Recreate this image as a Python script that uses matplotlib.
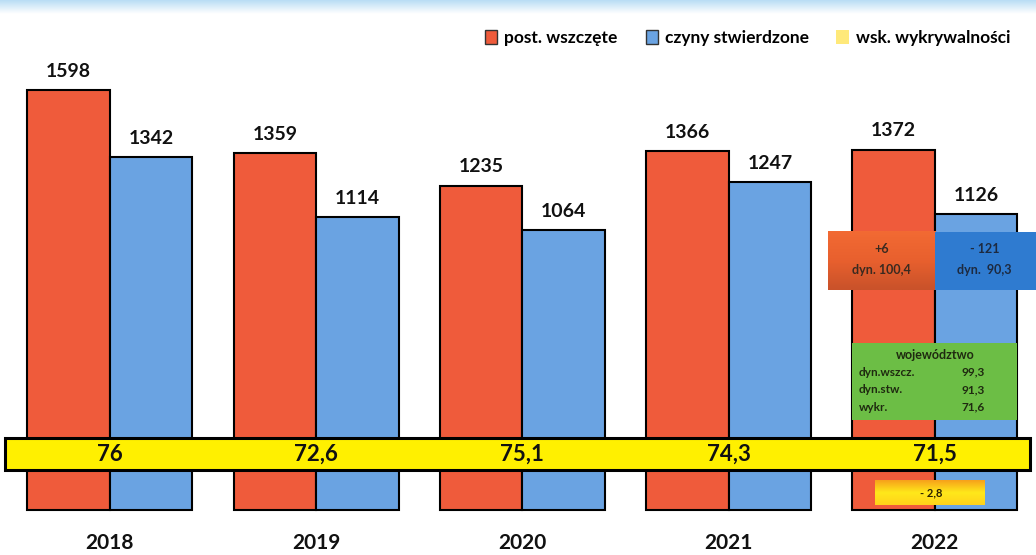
import numpy as np
import matplotlib
matplotlib.use("Agg")
import matplotlib.pyplot as plt
from matplotlib.patches import Rectangle, Patch

plt.rcParams['font.family'] = ['Lato', 'DejaVu Sans']

# dane
lata = ['2018', '2019', '2020', '2021', '2022']
wszczete = [1598, 1359, 1235, 1366, 1372]
stwierdzone = [1342, 1114, 1064, 1247, 1126]
wykrywalnosc = ['76', '72,6', '75,1', '74,3', '71,5']

# opisy dynamiki dla 2022
dyn_wszcz = ['+6', 'dyn. 100,4']
dyn_stw = ['- 121', 'dyn.  90,3']
woj_tytul = 'województwo'
woj_etykiety = ['dyn.wszcz.', 'dyn.stw.', 'wykr.']
woj_wartosci = ['99,3', '91,3', '71,6']
zmiana_wykr = '- 2,8'

kolor_w = '#EF5B3B'
kolor_s = '#6AA3E2'

fig = plt.figure(figsize=(10.36, 5.55), dpi=100)
ax = fig.add_axes([0, 0, 1, 1])
ax.axis('off')

x = np.arange(len(lata))
ax.bar(x - 0.2, wszczete, width=0.4, color=kolor_w, edgecolor='black', linewidth=1.5, zorder=2)
ax.bar(x + 0.2, stwierdzone, width=0.4, color=kolor_s, edgecolor='black', linewidth=1.5, zorder=2)

for i in range(len(lata)):
    ax.text(x[i] - 0.2, wszczete[i] + 72, str(wszczete[i]), ha='center', va='center',
            fontsize=14, fontweight='bold', color='#111111')
    ax.text(x[i] + 0.2, stwierdzone[i] + 72, str(stwierdzone[i]), ha='center', va='center',
            fontsize=14, fontweight='bold', color='#111111')
    ax.text(x[i], -124, lata[i], ha='center', va='center', fontsize=15, fontweight='bold',
            color='#111111')

# pas wykrywalności
ax.add_patch(Rectangle((-0.51, 152), 4.97, 122, facecolor='#FFF000', edgecolor='black',
                       linewidth=2.2, zorder=5))
for i in range(len(lata)):
    ax.text(x[i], 213, wykrywalnosc[i], ha='center', va='center', fontsize=16,
            fontweight='bold', color='#111111', zorder=6)

# ramki 2022
grad = np.linspace(0, 1, 50).reshape(-1, 1)
cm_red = matplotlib.colors.LinearSegmentedColormap.from_list('r', ['#F26A33', '#E8602E', '#C9522A'])
ax.imshow(grad, cmap=cm_red, extent=(3.48, 4.0, 837, 1058), aspect='auto', zorder=4)
ax.add_patch(Rectangle((4.0, 837), 0.49, 221, facecolor='#2F7BD0', edgecolor='none', zorder=4))
ax.text(3.74, 992, dyn_wszcz[0], ha='center', va='center', fontsize=9, fontweight='bold', color='#3a2a20', zorder=6)
ax.text(3.74, 915, dyn_wszcz[1], ha='center', va='center', fontsize=9, fontweight='bold', color='#3a2a20', zorder=6)
ax.text(4.24, 992, dyn_stw[0], ha='center', va='center', fontsize=9, fontweight='bold', color='#1d2a40', zorder=6)
ax.text(4.24, 915, dyn_stw[1], ha='center', va='center', fontsize=9, fontweight='bold', color='#1d2a40', zorder=6)

ax.add_patch(Rectangle((3.6, 342), 0.8, 293, facecolor='#6CBE45', edgecolor='none', zorder=4))
ax.text(4.0, 590, woj_tytul, ha='center', va='center', fontsize=9, fontweight='bold', color='#1f2a10', zorder=6)
for k in range(len(woj_etykiety)):
    yy = 525 - k * 67
    ax.text(3.63, yy, woj_etykiety[k], ha='left', va='center', fontsize=8.5, fontweight='bold', color='#1f2a10', zorder=6)
    ax.text(4.24, yy, woj_wartosci[k], ha='right', va='center', fontsize=8.5, fontweight='bold', color='#1f2a10', zorder=6)

cm_yel = matplotlib.colors.LinearSegmentedColormap.from_list('y', ['#F7A21B', '#FFE81A', '#FFD21A'])
ax.imshow(grad, cmap=cm_yel, extent=(3.71, 4.24, 19, 114), aspect='auto', zorder=4)
ax.text(3.98, 66, zmiana_wykr, ha='center', va='center', fontsize=8, fontweight='bold', color='#2a2000', zorder=6)

ax.set_xlim(-0.533, 4.49)
ax.set_ylim(-171, 1941)

# legenda
uchwyty = [Patch(facecolor=kolor_w, edgecolor='#333333'),
           Patch(facecolor=kolor_s, edgecolor='#333333'),
           Patch(facecolor='#FFE97A', edgecolor='none')]
ax.legend(uchwyty, ['post. wszczęte', 'czyny stwierdzone', 'wsk. wykrywalności'],
          loc='upper right', bbox_to_anchor=(0.99, 0.975), ncol=3, frameon=False,
          prop={'size': 12.5, 'weight': 'bold'}, handlelength=0.7, handleheight=0.9,
          handletextpad=0.4, columnspacing=1.6)

# niebieski pasek u góry
top = fig.add_axes([0, 1 - 14 / 555, 1, 14 / 555])
top.axis('off')
top.imshow(np.linspace(0, 1, 30).reshape(-1, 1),
           cmap=matplotlib.colors.LinearSegmentedColormap.from_list('b', ['#B9DDF5', '#FFFFFF']),
           aspect='auto', extent=(0, 1, 0, 1))

fig.savefig('out.png', dpi=100)
